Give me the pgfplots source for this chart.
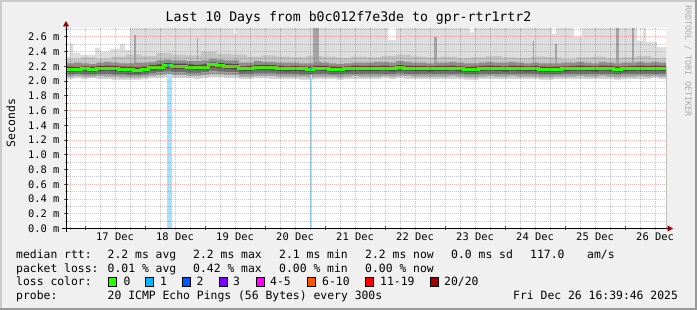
\documentclass[border=0pt]{standalone}
\usepackage{pgfplots}
\usepackage{pgfplotstable}
\pgfplotsset{compat=1.18}
\usepackage{fontspec}
\setmainfont{DejaVu Sans Mono}
\usetikzlibrary{arrows.meta}

\definecolor{bgc}{HTML}{F0F0F0}
\definecolor{shadea}{HTML}{CBCBCB}
\definecolor{shadeb}{HTML}{999999}
\definecolor{arr}{HTML}{A00000}
\definecolor{s1}{HTML}{DDDDDD}
\definecolor{s2}{HTML}{C4C4C4}
\definecolor{s3}{HTML}{8E8E8E}
\definecolor{s4}{HTML}{4A4A4A}
\definecolor{s5}{HTML}{707070}
\definecolor{s6}{HTML}{A0A0A0}
\definecolor{s7}{HTML}{CDCDCD}
\definecolor{spk}{HTML}{A4A4A4}
\definecolor{lossa}{HTML}{A8E2F8}
\definecolor{lc0}{HTML}{26FF00}
\definecolor{lc1}{HTML}{00B8FF}
\definecolor{lc2}{HTML}{0059FF}
\definecolor{lc3}{HTML}{7E00FF}
\definecolor{lc4}{HTML}{FF00FF}
\definecolor{lc6}{HTML}{FF5500}
\definecolor{lc11}{HTML}{FF0000}
\definecolor{lc20}{HTML}{A10000}

\newcommand{\lgf}{\fontsize{11.4}{13}\selectfont}

% d = days since 17 Dec 00:00
\pgfplotstableread{
d med u1 u2 l1 l2 l3 wb
-0.32 2.160 2.195 2.24 2.125 2.09 2.06 2.03
-0.1875 2.160 2.190 2.25 2.130 2.10 2.07 2.04
-0.0625 2.165 2.200 2.24 2.130 2.09 2.06 2.03
0.0625 2.160 2.195 2.23 2.125 2.09 2.06 2.04
0.1875 2.170 2.205 2.25 2.135 2.10 2.07 2.03
0.3125 2.175 2.210 2.26 2.140 2.10 2.06 2.03
0.4375 2.170 2.205 2.25 2.135 2.09 2.06 2.02
0.5625 2.160 2.195 2.24 2.125 2.09 2.05 2.02
0.6875 2.155 2.190 2.24 2.120 2.08 2.05 2.02
0.8125 2.150 2.185 2.25 2.115 2.08 2.05 2.02
0.9375 2.160 2.195 2.25 2.125 2.09 2.06 2.03
1.0625 2.180 2.215 2.26 2.145 2.11 2.07 2.04
1.1875 2.190 2.225 2.28 2.155 2.12 2.08 2.04
1.3125 2.210 2.245 2.29 2.175 2.13 2.09 2.05
1.4375 2.200 2.235 2.28 2.165 2.12 2.08 2.04
1.5625 2.200 2.235 2.28 2.165 2.12 2.08 2.04
1.6875 2.190 2.225 2.27 2.155 2.11 2.07 2.04
1.8125 2.185 2.220 2.27 2.150 2.11 2.07 2.03
1.9375 2.190 2.225 2.28 2.155 2.12 2.08 2.04
2.0625 2.220 2.255 2.30 2.185 2.14 2.09 2.05
2.1875 2.210 2.245 2.29 2.175 2.13 2.09 2.05
2.3125 2.200 2.235 2.28 2.165 2.12 2.08 2.04
2.4375 2.195 2.230 2.28 2.160 2.12 2.08 2.04
2.5625 2.165 2.200 2.25 2.130 2.10 2.06 2.03
2.6875 2.170 2.205 2.25 2.135 2.10 2.06 2.03
2.8125 2.185 2.220 2.27 2.150 2.11 2.07 2.04
2.9375 2.185 2.220 2.26 2.150 2.11 2.07 2.04
3.0625 2.180 2.215 2.26 2.145 2.11 2.07 2.03
3.1875 2.170 2.205 2.25 2.135 2.10 2.06 2.03
3.3125 2.165 2.200 2.25 2.130 2.10 2.06 2.03
3.4375 2.170 2.205 2.25 2.135 2.10 2.06 2.03
3.5625 2.165 2.200 2.24 2.130 2.09 2.06 2.02
3.6875 2.160 2.195 2.24 2.125 2.09 2.05 2.02
3.8125 2.175 2.210 2.26 2.140 2.10 2.06 2.03
3.9375 2.170 2.205 2.25 2.135 2.10 2.06 2.03
4.0625 2.160 2.195 2.24 2.125 2.09 2.06 2.03
4.1875 2.155 2.190 2.23 2.120 2.09 2.05 2.02
4.3125 2.165 2.200 2.24 2.130 2.10 2.06 2.03
4.4375 2.175 2.210 2.25 2.140 2.10 2.07 2.03
4.5625 2.170 2.205 2.25 2.135 2.10 2.06 2.03
4.6875 2.170 2.205 2.25 2.135 2.10 2.06 2.03
4.8125 2.170 2.205 2.26 2.135 2.10 2.06 2.03
4.9375 2.175 2.210 2.26 2.140 2.10 2.07 2.04
5.0625 2.165 2.200 2.25 2.130 2.10 2.06 2.03
5.1875 2.180 2.215 2.27 2.145 2.11 2.07 2.04
5.3125 2.175 2.210 2.26 2.140 2.10 2.07 2.03
5.4375 2.170 2.205 2.25 2.135 2.10 2.06 2.03
5.5625 2.170 2.205 2.25 2.135 2.10 2.06 2.03
5.6875 2.165 2.200 2.24 2.130 2.10 2.06 2.03
5.8125 2.170 2.205 2.25 2.135 2.10 2.06 2.03
5.9375 2.170 2.205 2.25 2.135 2.10 2.06 2.03
6.0625 2.175 2.210 2.26 2.140 2.10 2.07 2.03
6.1875 2.165 2.200 2.25 2.130 2.10 2.06 2.03
6.3125 2.155 2.190 2.24 2.120 2.09 2.05 2.02
6.4375 2.160 2.195 2.24 2.125 2.09 2.05 2.02
6.5625 2.170 2.205 2.25 2.135 2.10 2.06 2.03
6.6875 2.175 2.210 2.26 2.140 2.10 2.07 2.03
6.8125 2.170 2.205 2.25 2.135 2.10 2.06 2.03
6.9375 2.165 2.200 2.25 2.130 2.10 2.06 2.03
7.0625 2.175 2.210 2.26 2.140 2.10 2.07 2.03
7.1875 2.170 2.205 2.25 2.135 2.10 2.06 2.03
7.3125 2.165 2.200 2.24 2.130 2.10 2.06 2.03
7.4375 2.170 2.205 2.25 2.135 2.10 2.06 2.03
7.5625 2.160 2.195 2.24 2.125 2.09 2.05 2.02
7.6875 2.155 2.190 2.24 2.120 2.09 2.05 2.02
7.8125 2.160 2.195 2.24 2.125 2.09 2.06 2.03
7.9375 2.165 2.200 2.25 2.130 2.10 2.06 2.03
8.0625 2.170 2.205 2.25 2.135 2.10 2.06 2.03
8.1875 2.175 2.210 2.26 2.140 2.10 2.07 2.03
8.3125 2.170 2.205 2.25 2.135 2.10 2.06 2.03
8.4375 2.165 2.200 2.24 2.130 2.10 2.06 2.03
8.5625 2.175 2.210 2.26 2.140 2.10 2.07 2.03
8.6875 2.170 2.205 2.25 2.135 2.10 2.06 2.03
8.8125 2.160 2.195 2.24 2.125 2.09 2.05 2.02
8.9375 2.165 2.200 2.25 2.130 2.10 2.06 2.03
9.0625 2.170 2.205 2.25 2.135 2.10 2.06 2.03
9.1875 2.175 2.210 2.26 2.140 2.10 2.07 2.03
9.3125 2.170 2.205 2.25 2.135 2.10 2.06 2.03
9.4375 2.175 2.210 2.26 2.140 2.10 2.07 2.04
9.5625 2.170 2.205 2.25 2.135 2.10 2.06 2.03
9.70 2.170 2.205 2.25 2.135 2.10 2.06 2.03
}\data

\begin{document}
\begin{tikzpicture}[x=1pt,y=1pt]
\useasboundingbox (0,0) rectangle (697,310);
\fill[bgc] (0,0) rectangle (697,310);
\draw[shadea,line width=2pt] (1,0) -- (1,309) -- (697,309);
\draw[shadeb,line width=2pt] (0,1) -- (696,1) -- (696,310);

\begin{axis}[
  at={(66pt,81.5pt)}, anchor=south west,
  scale only axis, width=600pt, height=200.5pt,
  xmin=-0.317, xmax=9.683, ymin=0, ymax=2.72,
  axis background/.style={fill=white},
  axis on top,
  axis x line=bottom, axis y line=left,
  x axis line style={-{Triangle[length=5.5pt,width=6pt,color=arr]}, shorten >=-7pt, shorten <=-4pt, line width=0.9pt},
  y axis line style={-{Triangle[length=5.5pt,width=6pt,color=arr]}, shorten >=-7pt, shorten <=-4pt, line width=0.9pt},
  xtick={0,1,2,3,4,5,6,7,8,9},
  xticklabels={},
  minor xtick={-0.25,0.25,0.5,0.75,1.25,1.5,1.75,2.25,2.5,2.75,3.25,3.5,3.75,4.25,4.5,4.75,5.25,5.5,5.75,6.25,6.5,6.75,7.25,7.5,7.75,8.25,8.5,8.75,9.25,9.5},
  extra x ticks={0.5,1.5,2.5,3.5,4.5,5.5,6.5,7.5,8.5,9.5},
  extra x tick labels={17 Dec,18 Dec,19 Dec,20 Dec,21 Dec,22 Dec,23 Dec,24 Dec,25 Dec,26 Dec},
  extra x tick style={grid=none, major tick length=0pt},
  ytick={0,0.2,0.4,0.6,0.8,1.0,1.2,1.4,1.6,1.8,2.0,2.2,2.4,2.6},
  yticklabels={0.0 m,0.2 m,0.4 m,0.6 m,0.8 m,1.0 m,1.2 m,1.4 m,1.6 m,1.8 m,2.0 m,2.2 m,2.4 m,2.6 m},
  minor ytick={0.1,0.3,0.5,0.7,0.9,1.1,1.3,1.5,1.7,1.9,2.1,2.3,2.5,2.7},
  grid=both,
  major grid style={red, opacity=0.28, line width=1pt, dash pattern=on 1pt off 1pt},
  minor grid style={black, opacity=0.22, line width=1pt, dash pattern=on 1pt off 1pt},
  tick align=center,
  major tick length=4pt, minor tick length=3pt,
  major tick style={black!70, line width=0.8pt},
  minor tick style={black!35, line width=0.8pt},
  tick label style={font=\fontsize{10.4}{12}\selectfont, text=black},
  yticklabel style={xshift=-1pt},
  xticklabel style={yshift=-1pt},
]
% lightest smoke (upper envelope)
\addplot[const plot, fill=s1, draw=none] coordinates {
(-0.32,2.33) (-0.25,2.50) (-0.2,2.38) (-0.083,2.36) (0.167,2.45) (0.25,2.40) (0.417,2.44)
(0.583,2.50) (0.667,2.42) (0.75,2.72) (2.48,2.64) (2.52,2.72) (5.05,2.56) (5.18,2.72)
(6.42,2.66) (6.48,2.72) (7.78,2.64) (7.85,2.72) (8.15,2.60) (8.28,2.72) (9.2,2.55)
(9.3,2.72) (9.35,2.53) (9.53,2.46) (9.70,2.46)} \closedcycle;
% second smoke layer
\addplot[const plot, fill=s2, draw=none] coordinates {
(-0.32,2.30) (-0.0625,2.32) (0.1875,2.30) (0.4375,2.33) (0.6875,2.36) (0.9375,2.34)
(1.1875,2.38) (1.4375,2.36) (1.6875,2.35) (1.9375,2.40) (2.1875,2.37) (2.4375,2.36)
(2.6875,2.33) (2.9375,2.35) (3.1875,2.33) (3.4375,2.32) (3.6875,2.34) (3.9375,2.33)
(4.1875,2.31) (4.4375,2.33) (4.6875,2.32) (4.9375,2.34) (5.1875,2.36) (5.4375,2.33)
(5.6875,2.32) (5.9375,2.33) (6.1875,2.31) (6.4375,2.32) (6.6875,2.34) (6.9375,2.32)
(7.1875,2.31) (7.4375,2.33) (7.6875,2.32) (7.9375,2.30) (8.1875,2.32) (8.4375,2.33)
(8.6875,2.31) (8.9375,2.32) (9.1875,2.34) (9.4375,2.31) (9.70,2.31)} \closedcycle;
% darker spikes
\addplot[fill=spk, draw=none] coordinates {(0.82,2.2) (0.82,2.62) (0.85,2.62) (0.85,2.2)} -- cycle;
\addplot[fill=spk, draw=none] coordinates {(1.86,2.2) (1.86,2.58) (1.89,2.58) (1.89,2.2)} -- cycle;
\addplot[fill=spk, draw=none] coordinates {(3.80,2.2) (3.80,2.72) (3.90,2.72) (3.90,2.2)} -- cycle;
\addplot[fill=spk, draw=none] coordinates {(5.82,2.2) (5.82,2.60) (5.87,2.60) (5.87,2.2)} -- cycle;
\addplot[fill=spk, draw=none] coordinates {(7.46,2.2) (7.46,2.55) (7.49,2.55) (7.49,2.2)} -- cycle;
\addplot[fill=spk, draw=none] coordinates {(7.84,2.2) (7.84,2.50) (7.87,2.50) (7.87,2.2)} -- cycle;
\addplot[fill=spk, draw=none] coordinates {(8.85,2.2) (8.85,2.72) (8.90,2.72) (8.90,2.2)} -- cycle;
\addplot[fill=spk, draw=none] coordinates {(9.12,2.2) (9.12,2.72) (9.15,2.72) (9.15,2.2)} -- cycle;
% inner smoke layers
\addplot[const plot, fill=s3, draw=none] table[x=d,y=u2]{\data} \closedcycle;
\addplot[const plot, fill=s4, draw=none] table[x=d,y=u1]{\data} \closedcycle;
\addplot[const plot, fill=s5, draw=none] table[x=d,y=l1]{\data} \closedcycle;
\addplot[const plot, fill=s6, draw=none] table[x=d,y=l2]{\data} \closedcycle;
\addplot[const plot, fill=s7, draw=none] table[x=d,y=l3]{\data} \closedcycle;
\addplot[const plot, fill=white, draw=none] table[x=d,y=wb]{\data} \closedcycle;
% loss bars
\addplot[fill=lossa, draw=none] coordinates {(1.361,0) (1.361,2.09) (1.444,2.09) (1.444,0)} -- cycle;
\addplot[fill=lossa, draw=none] coordinates {(3.745,0) (3.745,2.08) (3.783,2.08) (3.783,0)} -- cycle;
% median
\addplot[const plot, draw=lc0, line width=3pt] table[x=d,y=med]{\data};
\addplot[const plot, draw=lc1, line width=3pt] coordinates {(1.36,2.205) (1.41,2.205)};
\addplot[const plot, draw=lc1, line width=3pt] coordinates {(3.745,2.165) (3.78,2.165)};
\end{axis}

\node[font=\fontsize{13.2}{15}\selectfont, anchor=base] at (348.5,288) {Last 10 Days from b0c012f7e3de to gpr-rtr1rtr2};
\node[rotate=90, font=\lgf] at (11,187) {Seconds};
\node[rotate=-90, anchor=west, text=black!33, font=\fontsize{8.4}{9}\selectfont, inner sep=0pt] at (688,305) {RRDTOOL / TOBI OETIKER};

\begin{scope}[every node/.style={anchor=base west, inner sep=0pt, font=\lgf}]
\node at (16,51) {median rtt:};
\node at (107.5,51) {2.2 ms avg};
\node at (193,51) {2.2 ms max};
\node at (279,51) {2.1 ms min};
\node at (365,51) {2.2 ms now};
\node at (451,51) {0.0 ms sd};
\node at (530,51) {117.0};
\node at (587,51) {am/s};
\node at (16,37.5) {packet loss:};
\node at (107.5,37.5) {0.01 \% avg};
\node at (193,37.5) {0.42 \% max};
\node at (279,37.5) {0.00 \% min};
\node at (365,37.5) {0.00 \% now};
\node at (16,24) {loss color:};
\node at (123.5,24) {0};
\node at (160,24) {1};
\node at (196.5,24) {2};
\node at (233,24) {3};
\node at (270,24) {4-5};
\node at (322,24) {6-10};
\node at (380,24) {11-19};
\node at (444,24) {20/20};
\node at (16,10.5) {probe:};
\node at (107.5,10.5) {20 ICMP Echo Pings (56 Bytes) every 300s};
\node at (513,10.5) {Fri Dec 26 16:39:46 2025};
\end{scope}
\foreach \bx/\bc in {108/lc0,145/lc1,182/lc2,219/lc3,256/lc4,307.5/lc6,365/lc11,430/lc20}{
  \filldraw[fill=\bc, draw=black, line width=0.8pt] (\bx,23.5) rectangle ++(8,9);
}
\end{tikzpicture}
\end{document}
